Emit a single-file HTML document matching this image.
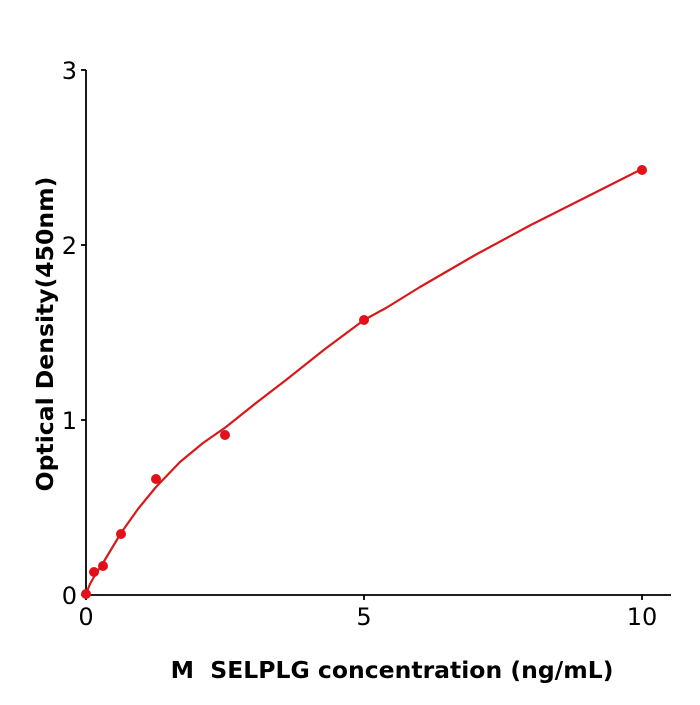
<!DOCTYPE html>
<html><head><style>body{margin:0;background:#fff}</style></head><body>
<svg width="700" height="700" xmlns="http://www.w3.org/2000/svg" font-family="DejaVu Sans, Liberation Sans, sans-serif">
<rect width="700" height="700" fill="#fff"/>
<g stroke="#000" stroke-width="1.8" fill="none">
<line x1="86" y1="70" x2="86" y2="596"/>
<line x1="85" y1="595" x2="671" y2="595"/>
<line x1="81" y1="595" x2="86" y2="595"/>
<line x1="81" y1="420" x2="86" y2="420"/>
<line x1="81" y1="245" x2="86" y2="245"/>
<line x1="81" y1="70" x2="86" y2="70"/>
<line x1="86" y1="595" x2="86" y2="600"/>
<line x1="364" y1="595" x2="364" y2="600"/>
<line x1="642" y1="595" x2="642" y2="600"/>
</g>
<g font-size="24" fill="#000">
<text x="77" y="604" text-anchor="end">0</text>
<text x="77" y="429" text-anchor="end">1</text>
<text x="77" y="254" text-anchor="end">2</text>
<text x="77" y="79" text-anchor="end">3</text>
<text x="86" y="625" text-anchor="middle">0</text>
<text x="364" y="625" text-anchor="middle">5</text>
<text x="642" y="625" text-anchor="middle">10</text>
</g>
<text x="392" y="678" font-size="23.5" font-weight="bold" text-anchor="middle" xml:space="preserve">M  SELPLG concentration (ng/mL)</text>
<text transform="translate(53,334) rotate(-90)" font-size="23.5" font-weight="bold" text-anchor="middle">Optical Density(450nm)</text>
<polyline fill="none" stroke="#d7191c" stroke-width="2.2" stroke-linejoin="round" points="86,594 90,584 95,575 103,563 112,548 121,533 138,509 156,487 180,462 203,443 226,427 256,403 286,380 325,349 364,320 386,308 420,287 475.2,255 530.8,225 586.4,197 642,169"/>
<g fill="#e3101a">
<circle cx="86" cy="594" r="5"/>
<circle cx="94" cy="572" r="5"/>
<circle cx="103" cy="566" r="5"/>
<circle cx="121" cy="534" r="5"/>
<circle cx="156" cy="479" r="5"/>
<circle cx="225" cy="435" r="5"/>
<circle cx="364" cy="320" r="5"/>
<circle cx="642" cy="170" r="5"/>
</g>
</svg>
</body></html>
